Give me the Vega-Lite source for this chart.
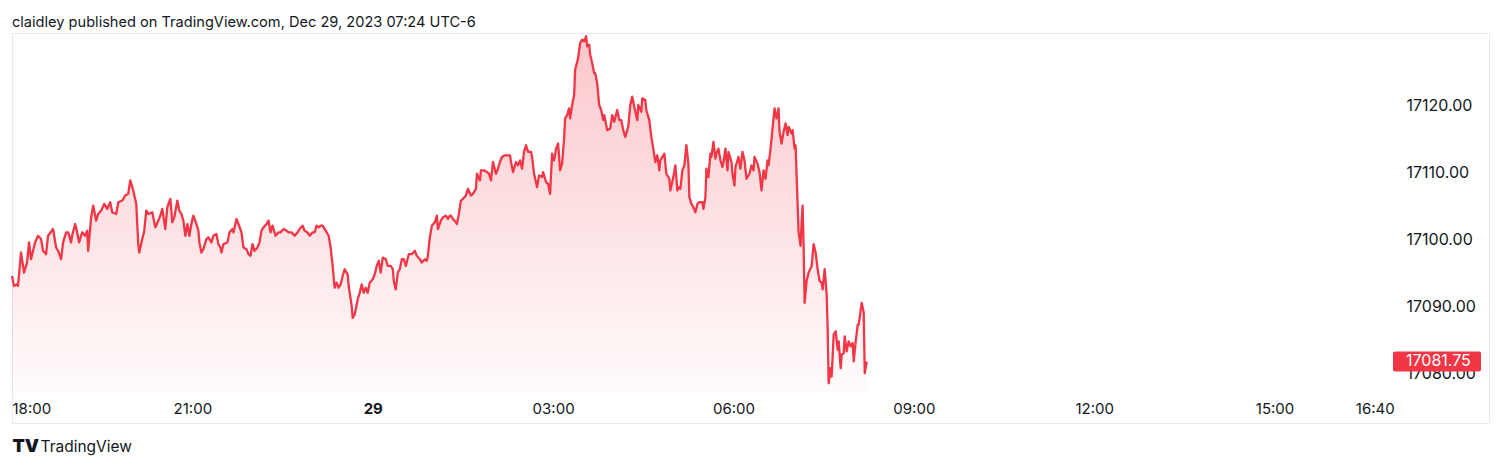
{
"$schema": "https://vega.github.io/schema/vega-lite/v6.json",
"width": 1477,
"height": 390,
"autosize": {"type": "none"},
"padding": {"left": 12, "top": 33, "right": 11, "bottom": 43},
"background": "white",
"title": {"text": "claidley published on TradingView.com, Dec 29, 2023 07:24 UTC-6", "anchor": "start", "frame": "group", "baseline": "alphabetic", "offset": 8, "dy": 17, "font": "Inter", "fontSize": 14.6, "fontWeight": 400, "color": "#131722"},
"config": {"view": {"stroke": "#e6e9f0", "strokeWidth": 1}, "font": "Inter"},
"datasets": {"nq": [
{"time":"2023-12-28T18:00","price":17094.5},
{"time":"2023-12-28T18:02","price":17093},
{"time":"2023-12-28T18:05","price":17093.25},
{"time":"2023-12-28T18:06","price":17093},
{"time":"2023-12-28T18:09","price":17098},
{"time":"2023-12-28T18:10","price":17097},
{"time":"2023-12-28T18:12","price":17095},
{"time":"2023-12-28T18:15","price":17096.5},
{"time":"2023-12-28T18:17","price":17099.5},
{"time":"2023-12-28T18:19","price":17097},
{"time":"2023-12-28T18:21","price":17098.25},
{"time":"2023-12-28T18:23","price":17099.5},
{"time":"2023-12-28T18:26","price":17100.5},
{"time":"2023-12-28T18:29","price":17100},
{"time":"2023-12-28T18:31","price":17098.25},
{"time":"2023-12-28T18:34","price":17097.75},
{"time":"2023-12-28T18:36","price":17100.5},
{"time":"2023-12-28T18:41","price":17101.5},
{"time":"2023-12-28T18:44","price":17098.75},
{"time":"2023-12-28T18:46","price":17098.25},
{"time":"2023-12-28T18:49","price":17097},
{"time":"2023-12-28T18:51","price":17099.5},
{"time":"2023-12-28T18:54","price":17101},
{"time":"2023-12-28T18:56","price":17101},
{"time":"2023-12-28T18:59","price":17099.5},
{"time":"2023-12-28T19:00","price":17100.5},
{"time":"2023-12-28T19:03","price":17102.25},
{"time":"2023-12-28T19:05","price":17101},
{"time":"2023-12-28T19:07","price":17099.5},
{"time":"2023-12-28T19:10","price":17101},
{"time":"2023-12-28T19:13","price":17100.5},
{"time":"2023-12-28T19:15","price":17101.25},
{"time":"2023-12-28T19:16","price":17098.25},
{"time":"2023-12-28T19:19","price":17103.25},
{"time":"2023-12-28T19:21","price":17105},
{"time":"2023-12-28T19:24","price":17102.75},
{"time":"2023-12-28T19:26","price":17103.75},
{"time":"2023-12-28T19:29","price":17104.25},
{"time":"2023-12-28T19:32","price":17105.25},
{"time":"2023-12-28T19:35","price":17104.5},
{"time":"2023-12-28T19:38","price":17105.5},
{"time":"2023-12-28T19:40","price":17104},
{"time":"2023-12-28T19:44","price":17103.75},
{"time":"2023-12-28T19:46","price":17105.5},
{"time":"2023-12-28T19:50","price":17105.75},
{"time":"2023-12-28T19:53","price":17106.5},
{"time":"2023-12-28T19:56","price":17106.75},
{"time":"2023-12-28T19:58","price":17108.75},
{"time":"2023-12-28T20:01","price":17107.25},
{"time":"2023-12-28T20:04","price":17105.25},
{"time":"2023-12-28T20:06","price":17099.25},
{"time":"2023-12-28T20:07","price":17098},
{"time":"2023-12-28T20:10","price":17100},
{"time":"2023-12-28T20:12","price":17101.25},
{"time":"2023-12-28T20:14","price":17104.25},
{"time":"2023-12-28T20:16","price":17103.75},
{"time":"2023-12-28T20:20","price":17104},
{"time":"2023-12-28T20:23","price":17101.75},
{"time":"2023-12-28T20:26","price":17102.75},
{"time":"2023-12-28T20:28","price":17103.5},
{"time":"2023-12-28T20:30","price":17104.5},
{"time":"2023-12-28T20:33","price":17101.5},
{"time":"2023-12-28T20:35","price":17104.75},
{"time":"2023-12-28T20:38","price":17106},
{"time":"2023-12-28T20:40","price":17102.5},
{"time":"2023-12-28T20:42","price":17103.25},
{"time":"2023-12-28T20:45","price":17105.75},
{"time":"2023-12-28T20:47","price":17104.25},
{"time":"2023-12-28T20:49","price":17103.75},
{"time":"2023-12-28T20:51","price":17102.75},
{"time":"2023-12-28T20:53","price":17100.5},
{"time":"2023-12-28T20:55","price":17102.25},
{"time":"2023-12-28T20:57","price":17100.5},
{"time":"2023-12-28T20:59","price":17102.25},
{"time":"2023-12-28T21:01","price":17103.5},
{"time":"2023-12-28T21:04","price":17102.25},
{"time":"2023-12-28T21:06","price":17101.25},
{"time":"2023-12-28T21:07","price":17099.5},
{"time":"2023-12-28T21:09","price":17098},
{"time":"2023-12-28T21:11","price":17098.5},
{"time":"2023-12-28T21:14","price":17100},
{"time":"2023-12-28T21:16","price":17100.25},
{"time":"2023-12-28T21:19","price":17099.5},
{"time":"2023-12-28T21:21","price":17100.5},
{"time":"2023-12-28T21:24","price":17100.75},
{"time":"2023-12-28T21:26","price":17099.25},
{"time":"2023-12-28T21:28","price":17098.75},
{"time":"2023-12-28T21:29","price":17098},
{"time":"2023-12-28T21:31","price":17099.25},
{"time":"2023-12-28T21:35","price":17099.5},
{"time":"2023-12-28T21:37","price":17101},
{"time":"2023-12-28T21:40","price":17101.5},
{"time":"2023-12-28T21:41","price":17101},
{"time":"2023-12-28T21:44","price":17103},
{"time":"2023-12-28T21:46","price":17102.25},
{"time":"2023-12-28T21:49","price":17101},
{"time":"2023-12-28T21:51","price":17098.75},
{"time":"2023-12-28T21:54","price":17098.5},
{"time":"2023-12-28T21:56","price":17097.75},
{"time":"2023-12-28T21:58","price":17097.5},
{"time":"2023-12-28T22:00","price":17099.25},
{"time":"2023-12-28T22:02","price":17098.25},
{"time":"2023-12-28T22:05","price":17098.75},
{"time":"2023-12-28T22:07","price":17099.5},
{"time":"2023-12-28T22:09","price":17101.25},
{"time":"2023-12-28T22:11","price":17101.75},
{"time":"2023-12-28T22:14","price":17102.25},
{"time":"2023-12-28T22:16","price":17102.75},
{"time":"2023-12-28T22:18","price":17101},
{"time":"2023-12-28T22:20","price":17102},
{"time":"2023-12-28T22:23","price":17100.5},
{"time":"2023-12-28T22:26","price":17101},
{"time":"2023-12-28T22:28","price":17101},
{"time":"2023-12-28T22:31","price":17101.5},
{"time":"2023-12-28T22:34","price":17101.25},
{"time":"2023-12-28T22:36","price":17101},
{"time":"2023-12-28T22:39","price":17101},
{"time":"2023-12-28T22:42","price":17100.5},
{"time":"2023-12-28T22:45","price":17101},
{"time":"2023-12-28T22:47","price":17101.5},
{"time":"2023-12-28T22:50","price":17102},
{"time":"2023-12-28T22:52","price":17101.25},
{"time":"2023-12-28T22:55","price":17101},
{"time":"2023-12-28T22:57","price":17100.5},
{"time":"2023-12-28T23:00","price":17101},
{"time":"2023-12-28T23:02","price":17101},
{"time":"2023-12-28T23:04","price":17102},
{"time":"2023-12-28T23:06","price":17101.75},
{"time":"2023-12-28T23:08","price":17102},
{"time":"2023-12-28T23:10","price":17102},
{"time":"2023-12-28T23:13","price":17101.25},
{"time":"2023-12-28T23:16","price":17100.5},
{"time":"2023-12-28T23:18","price":17098.75},
{"time":"2023-12-28T23:20","price":17096},
{"time":"2023-12-28T23:22","price":17092.75},
{"time":"2023-12-28T23:24","price":17093.5},
{"time":"2023-12-28T23:26","price":17092.75},
{"time":"2023-12-28T23:28","price":17093.25},
{"time":"2023-12-28T23:30","price":17094.5},
{"time":"2023-12-28T23:32","price":17095.5},
{"time":"2023-12-28T23:35","price":17094.75},
{"time":"2023-12-28T23:36","price":17093},
{"time":"2023-12-28T23:39","price":17090},
{"time":"2023-12-28T23:40","price":17088.25},
{"time":"2023-12-28T23:42","price":17088.75},
{"time":"2023-12-28T23:45","price":17091},
{"time":"2023-12-28T23:47","price":17092},
{"time":"2023-12-28T23:49","price":17093.25},
{"time":"2023-12-28T23:51","price":17092},
{"time":"2023-12-28T23:53","price":17092.75},
{"time":"2023-12-28T23:55","price":17092},
{"time":"2023-12-28T23:57","price":17093.5},
{"time":"2023-12-29T00:00","price":17094},
{"time":"2023-12-29T00:02","price":17094.75},
{"time":"2023-12-29T00:04","price":17096},
{"time":"2023-12-29T00:06","price":17096.75},
{"time":"2023-12-29T00:08","price":17095},
{"time":"2023-12-29T00:10","price":17097.25},
{"time":"2023-12-29T00:13","price":17097},
{"time":"2023-12-29T00:15","price":17096},
{"time":"2023-12-29T00:18","price":17096},
{"time":"2023-12-29T00:20","price":17095.5},
{"time":"2023-12-29T00:21","price":17093.75},
{"time":"2023-12-29T00:23","price":17092.5},
{"time":"2023-12-29T00:25","price":17095},
{"time":"2023-12-29T00:27","price":17095.5},
{"time":"2023-12-29T00:29","price":17097},
{"time":"2023-12-29T00:31","price":17097},
{"time":"2023-12-29T00:33","price":17096},
{"time":"2023-12-29T00:36","price":17097.75},
{"time":"2023-12-29T00:39","price":17097.75},
{"time":"2023-12-29T00:42","price":17098.25},
{"time":"2023-12-29T00:44","price":17097.5},
{"time":"2023-12-29T00:47","price":17097},
{"time":"2023-12-29T00:49","price":17096.5},
{"time":"2023-12-29T00:52","price":17097},
{"time":"2023-12-29T00:54","price":17096.75},
{"time":"2023-12-29T00:55","price":17097.5},
{"time":"2023-12-29T00:57","price":17100.25},
{"time":"2023-12-29T00:59","price":17102},
{"time":"2023-12-29T01:02","price":17102.5},
{"time":"2023-12-29T01:04","price":17103.5},
{"time":"2023-12-29T01:05","price":17101.5},
{"time":"2023-12-29T01:08","price":17102.75},
{"time":"2023-12-29T01:10","price":17103.25},
{"time":"2023-12-29T01:13","price":17103.5},
{"time":"2023-12-29T01:15","price":17103},
{"time":"2023-12-29T01:17","price":17103.5},
{"time":"2023-12-29T01:18","price":17103.5},
{"time":"2023-12-29T01:20","price":17103},
{"time":"2023-12-29T01:23","price":17102.5},
{"time":"2023-12-29T01:24","price":17102.25},
{"time":"2023-12-29T01:26","price":17103.75},
{"time":"2023-12-29T01:28","price":17105.75},
{"time":"2023-12-29T01:30","price":17106},
{"time":"2023-12-29T01:33","price":17106.5},
{"time":"2023-12-29T01:35","price":17107.5},
{"time":"2023-12-29T01:38","price":17106.5},
{"time":"2023-12-29T01:40","price":17106.75},
{"time":"2023-12-29T01:43","price":17107.5},
{"time":"2023-12-29T01:44","price":17109.75},
{"time":"2023-12-29T01:47","price":17108.75},
{"time":"2023-12-29T01:48","price":17110.25},
{"time":"2023-12-29T01:51","price":17110.25},
{"time":"2023-12-29T01:54","price":17110},
{"time":"2023-12-29T01:56","price":17109.75},
{"time":"2023-12-29T01:58","price":17108.75},
{"time":"2023-12-29T02:00","price":17111.5},
{"time":"2023-12-29T02:03","price":17109.75},
{"time":"2023-12-29T02:05","price":17110.5},
{"time":"2023-12-29T02:07","price":17111.5},
{"time":"2023-12-29T02:09","price":17112.25},
{"time":"2023-12-29T02:12","price":17112.5},
{"time":"2023-12-29T02:14","price":17112.5},
{"time":"2023-12-29T02:17","price":17112.5},
{"time":"2023-12-29T02:18","price":17111.5},
{"time":"2023-12-29T02:20","price":17110},
{"time":"2023-12-29T02:23","price":17111.5},
{"time":"2023-12-29T02:25","price":17111},
{"time":"2023-12-29T02:27","price":17111.75},
{"time":"2023-12-29T02:29","price":17110.5},
{"time":"2023-12-29T02:31","price":17113},
{"time":"2023-12-29T02:33","price":17114},
{"time":"2023-12-29T02:35","price":17113},
{"time":"2023-12-29T02:38","price":17113},
{"time":"2023-12-29T02:39","price":17112.25},
{"time":"2023-12-29T02:41","price":17109.75},
{"time":"2023-12-29T02:44","price":17107.75},
{"time":"2023-12-29T02:46","price":17109.5},
{"time":"2023-12-29T02:49","price":17109.25},
{"time":"2023-12-29T02:50","price":17110},
{"time":"2023-12-29T02:53","price":17108.5},
{"time":"2023-12-29T02:55","price":17108.25},
{"time":"2023-12-29T02:57","price":17106.75},
{"time":"2023-12-29T02:59","price":17112.75},
{"time":"2023-12-29T03:01","price":17111.75},
{"time":"2023-12-29T03:03","price":17113.5},
{"time":"2023-12-29T03:05","price":17114.25},
{"time":"2023-12-29T03:07","price":17110.25},
{"time":"2023-12-29T03:09","price":17111.25},
{"time":"2023-12-29T03:11","price":17115},
{"time":"2023-12-29T03:12","price":17118},
{"time":"2023-12-29T03:14","price":17118.5},
{"time":"2023-12-29T03:16","price":17119.5},
{"time":"2023-12-29T03:17","price":17118},
{"time":"2023-12-29T03:19","price":17120},
{"time":"2023-12-29T03:21","price":17121.5},
{"time":"2023-12-29T03:22","price":17125.25},
{"time":"2023-12-29T03:25","price":17127},
{"time":"2023-12-29T03:27","price":17129.25},
{"time":"2023-12-29T03:29","price":17129.75},
{"time":"2023-12-29T03:31","price":17129.5},
{"time":"2023-12-29T03:33","price":17130.25},
{"time":"2023-12-29T03:34","price":17128.75},
{"time":"2023-12-29T03:36","price":17129},
{"time":"2023-12-29T03:37","price":17127.5},
{"time":"2023-12-29T03:39","price":17126.25},
{"time":"2023-12-29T03:41","price":17124.75},
{"time":"2023-12-29T03:42","price":17124.75},
{"time":"2023-12-29T03:44","price":17123.25},
{"time":"2023-12-29T03:46","price":17120},
{"time":"2023-12-29T03:48","price":17119.25},
{"time":"2023-12-29T03:50","price":17117.75},
{"time":"2023-12-29T03:51","price":17118.5},
{"time":"2023-12-29T03:54","price":17116.25},
{"time":"2023-12-29T03:57","price":17116.5},
{"time":"2023-12-29T03:59","price":17118.5},
{"time":"2023-12-29T04:01","price":17117.5},
{"time":"2023-12-29T04:04","price":17119.25},
{"time":"2023-12-29T04:06","price":17117.75},
{"time":"2023-12-29T04:08","price":17117.75},
{"time":"2023-12-29T04:10","price":17116.25},
{"time":"2023-12-29T04:12","price":17115.25},
{"time":"2023-12-29T04:15","price":17116.75},
{"time":"2023-12-29T04:17","price":17120},
{"time":"2023-12-29T04:19","price":17121.25},
{"time":"2023-12-29T04:21","price":17119.75},
{"time":"2023-12-29T04:24","price":17117.75},
{"time":"2023-12-29T04:25","price":17120},
{"time":"2023-12-29T04:28","price":17119},
{"time":"2023-12-29T04:29","price":17121},
{"time":"2023-12-29T04:32","price":17120.75},
{"time":"2023-12-29T04:33","price":17119.25},
{"time":"2023-12-29T04:36","price":17117.75},
{"time":"2023-12-29T04:38","price":17115.25},
{"time":"2023-12-29T04:40","price":17113.5},
{"time":"2023-12-29T04:42","price":17111.5},
{"time":"2023-12-29T04:44","price":17112.5},
{"time":"2023-12-29T04:46","price":17110.25},
{"time":"2023-12-29T04:47","price":17111.75},
{"time":"2023-12-29T04:50","price":17112.5},
{"time":"2023-12-29T04:51","price":17112.75},
{"time":"2023-12-29T04:53","price":17109.75},
{"time":"2023-12-29T04:56","price":17109},
{"time":"2023-12-29T04:57","price":17107.25},
{"time":"2023-12-29T05:00","price":17109.25},
{"time":"2023-12-29T05:02","price":17111},
{"time":"2023-12-29T05:04","price":17107.25},
{"time":"2023-12-29T05:06","price":17107.75},
{"time":"2023-12-29T05:07","price":17107.5},
{"time":"2023-12-29T05:09","price":17110.25},
{"time":"2023-12-29T05:11","price":17111},
{"time":"2023-12-29T05:13","price":17114},
{"time":"2023-12-29T05:15","price":17111.25},
{"time":"2023-12-29T05:16","price":17106.25},
{"time":"2023-12-29T05:18","price":17105.25},
{"time":"2023-12-29T05:20","price":17104.75},
{"time":"2023-12-29T05:22","price":17104},
{"time":"2023-12-29T05:24","price":17105.25},
{"time":"2023-12-29T05:26","price":17105.5},
{"time":"2023-12-29T05:29","price":17105.5},
{"time":"2023-12-29T05:30","price":17104.5},
{"time":"2023-12-29T05:32","price":17106.25},
{"time":"2023-12-29T05:33","price":17110.5},
{"time":"2023-12-29T05:35","price":17109.25},
{"time":"2023-12-29T05:37","price":17112.75},
{"time":"2023-12-29T05:38","price":17112.25},
{"time":"2023-12-29T05:40","price":17114.5},
{"time":"2023-12-29T05:42","price":17112},
{"time":"2023-12-29T05:43","price":17112.75},
{"time":"2023-12-29T05:45","price":17113.5},
{"time":"2023-12-29T05:47","price":17111.75},
{"time":"2023-12-29T05:49","price":17110.75},
{"time":"2023-12-29T05:50","price":17111.5},
{"time":"2023-12-29T05:52","price":17113.5},
{"time":"2023-12-29T05:54","price":17110.25},
{"time":"2023-12-29T05:55","price":17113},
{"time":"2023-12-29T05:58","price":17111.5},
{"time":"2023-12-29T05:59","price":17109.75},
{"time":"2023-12-29T06:01","price":17108},
{"time":"2023-12-29T06:02","price":17110.75},
{"time":"2023-12-29T06:05","price":17112.25},
{"time":"2023-12-29T06:07","price":17110.5},
{"time":"2023-12-29T06:09","price":17113},
{"time":"2023-12-29T06:11","price":17111.75},
{"time":"2023-12-29T06:13","price":17109},
{"time":"2023-12-29T06:16","price":17109.75},
{"time":"2023-12-29T06:18","price":17111},
{"time":"2023-12-29T06:20","price":17110.25},
{"time":"2023-12-29T06:21","price":17112.25},
{"time":"2023-12-29T06:24","price":17111.25},
{"time":"2023-12-29T06:26","price":17110},
{"time":"2023-12-29T06:28","price":17107.25},
{"time":"2023-12-29T06:30","price":17110.25},
{"time":"2023-12-29T06:32","price":17109},
{"time":"2023-12-29T06:34","price":17111.75},
{"time":"2023-12-29T06:35","price":17111},
{"time":"2023-12-29T06:37","price":17113.5},
{"time":"2023-12-29T06:39","price":17116.5},
{"time":"2023-12-29T06:41","price":17119.5},
{"time":"2023-12-29T06:43","price":17118},
{"time":"2023-12-29T06:45","price":17119.5},
{"time":"2023-12-29T06:46","price":17116},
{"time":"2023-12-29T06:48","price":17114.25},
{"time":"2023-12-29T06:50","price":17116},
{"time":"2023-12-29T06:52","price":17117.25},
{"time":"2023-12-29T06:54","price":17115.5},
{"time":"2023-12-29T06:55","price":17116.75},
{"time":"2023-12-29T06:58","price":17115.75},
{"time":"2023-12-29T06:59","price":17116.25},
{"time":"2023-12-29T07:01","price":17113.5},
{"time":"2023-12-29T07:02","price":17114},
{"time":"2023-12-29T07:03","price":17109.5},
{"time":"2023-12-29T07:05","price":17101},
{"time":"2023-12-29T07:07","price":17099},
{"time":"2023-12-29T07:08","price":17102.5},
{"time":"2023-12-29T07:09","price":17105},
{"time":"2023-12-29T07:10","price":17099},
{"time":"2023-12-29T07:11","price":17090.5},
{"time":"2023-12-29T07:13","price":17093.75},
{"time":"2023-12-29T07:15","price":17095},
{"time":"2023-12-29T07:18","price":17096},
{"time":"2023-12-29T07:20","price":17099.25},
{"time":"2023-12-29T07:22","price":17098},
{"time":"2023-12-29T07:24","price":17095.5},
{"time":"2023-12-29T07:26","price":17093.75},
{"time":"2023-12-29T07:28","price":17093.5},
{"time":"2023-12-29T07:29","price":17092.5},
{"time":"2023-12-29T07:31","price":17095.5},
{"time":"2023-12-29T07:33","price":17091.75},
{"time":"2023-12-29T07:34","price":17086.75},
{"time":"2023-12-29T07:35","price":17078.5},
{"time":"2023-12-29T07:37","price":17080.75},
{"time":"2023-12-29T07:38","price":17079.5},
{"time":"2023-12-29T07:40","price":17085.75},
{"time":"2023-12-29T07:42","price":17086.25},
{"time":"2023-12-29T07:44","price":17083.5},
{"time":"2023-12-29T07:45","price":17084.75},
{"time":"2023-12-29T07:47","price":17080.75},
{"time":"2023-12-29T07:48","price":17082.75},
{"time":"2023-12-29T07:50","price":17083},
{"time":"2023-12-29T07:51","price":17085.5},
{"time":"2023-12-29T07:53","price":17083.25},
{"time":"2023-12-29T07:55","price":17084.75},
{"time":"2023-12-29T07:57","price":17084},
{"time":"2023-12-29T07:59","price":17084.5},
{"time":"2023-12-29T08:00","price":17081.75},
{"time":"2023-12-29T08:02","price":17084.75},
{"time":"2023-12-29T08:04","price":17087.25},
{"time":"2023-12-29T08:05","price":17087.25},
{"time":"2023-12-29T08:08","price":17090.5},
{"time":"2023-12-29T08:10","price":17089},
{"time":"2023-12-29T08:11","price":17080},
{"time":"2023-12-29T08:13","price":17081.75}
]},
"data": {"name": "nq"},
"encoding": {
"x": {"field": "time", "type": "temporal",
"scale": {"domain": [{"year": 2023, "month": 12, "date": 28, "hours": 18, "minutes": 0}, {"year": 2023, "month": 12, "date": 29, "hours": 18, "minutes": 34}]},
"axis": {"orient": "bottom", "offset": -31, "domain": false, "ticks": false, "grid": false, "labelOverlap": false, "labelFlush": true,
"values": [{"year": 2023, "month": 12, "date": 28, "hours": 18}, {"year": 2023, "month": 12, "date": 28, "hours": 21}, {"year": 2023, "month": 12, "date": 29, "hours": 0}, {"year": 2023, "month": 12, "date": 29, "hours": 3}, {"year": 2023, "month": 12, "date": 29, "hours": 6}, {"year": 2023, "month": 12, "date": 29, "hours": 9}, {"year": 2023, "month": 12, "date": 29, "hours": 12}, {"year": 2023, "month": 12, "date": 29, "hours": 15}, {"year": 2023, "month": 12, "date": 29, "hours": 16, "minutes": 40}],
"labelExpr": "hours(datum.value) == 0 && minutes(datum.value) == 0 ? timeFormat(datum.value, '%d') : timeFormat(datum.value, '%H:%M')",
"labelFontWeight": {"condition": {"test": "hours(datum.value) == 0 && minutes(datum.value) == 0", "value": 700}, "value": 400},
"labelFont": "Inter", "labelFontSize": 15, "labelColor": "#131722", "labelPadding": 21, "labelBaseline": "alphabetic",
"title": "TradingView", "titleFont": "Inter", "titleFontSize": 15.5, "titleFontWeight": 400, "titleColor": "#131722", "titleX": 28, "titleY": 59, "titleAlign": "left", "titleBaseline": "alphabetic"}},
"y": {"field": "price", "type": "quantitative",
"scale": {"domain": [17072.57, 17130.74], "zero": false, "nice": false},
"axis": {"orient": "right", "offset": -83, "domain": false, "ticks": false, "grid": false, "labelAlign": "left", "labelPadding": 0, "labelBaseline": "middle",
"values": [17080, 17090, 17100, 17110, 17120], "format": ".2f",
"labelFont": "Inter", "labelFontSize": 16, "labelColor": "#131722",
"title": "TV", "titleAngle": 0, "titleX": -1394, "titleY": 418, "titleAlign": "left", "titleBaseline": "alphabetic", "titleFont": "Inter", "titleFontSize": 18, "titleFontWeight": 900, "titleColor": "#131722"}}
},
"layer": [
{
"mark": {"type": "area", "interpolate": "linear", "fill": {"gradient": "linear", "x1": 0, "y1": 0, "x2": 0, "y2": 1, "stops": [{"offset": 0, "color": "rgba(242,54,69,0.28)"}, {"offset": 1, "color": "rgba(242,54,69,0.02)"}]}},
"encoding": {"y2": {"datum": 17077.2}}
},
{
"mark": {"type": "line", "color": "#F23645", "strokeWidth": 2.3, "strokeJoin": "round", "interpolate": "linear"}
},
{
"transform": [{"window": [{"op": "row_number", "as": "rn"}], "sort": [{"field": "time", "order": "descending"}]}, {"filter": "datum.rn == 1"}],
"mark": {"type": "point", "shape": "M-0.955,-0.2273H0.955A0.045,0.045 0 0 1 1,-0.1818V0.1818A0.045,0.045 0 0 1 0.955,0.2273H-0.955A0.045,0.045 0 0 1 -1,0.1818V-0.1818A0.045,0.045 0 0 1 -0.955,-0.2273Z", "size": 7744, "filled": true, "opacity": 1, "color": "#F23645", "strokeWidth": 0, "xOffset": -52},
"encoding": {
"x": {"datum": {"year": 2023, "month": 12, "date": 29, "hours": 18, "minutes": 34}, "type": "temporal"}
}
},
{
"transform": [{"window": [{"op": "row_number", "as": "rn"}], "sort": [{"field": "time", "order": "descending"}]}, {"filter": "datum.rn == 1"}],
"mark": {"type": "text", "align": "left", "baseline": "middle", "font": "Inter", "fontSize": 16, "color": "white", "xOffset": -83},
"encoding": {
"x": {"datum": {"year": 2023, "month": 12, "date": 29, "hours": 18, "minutes": 34}, "type": "temporal"},
"text": {"field": "price", "type": "quantitative", "format": ".2f"}
}
}
]
}
